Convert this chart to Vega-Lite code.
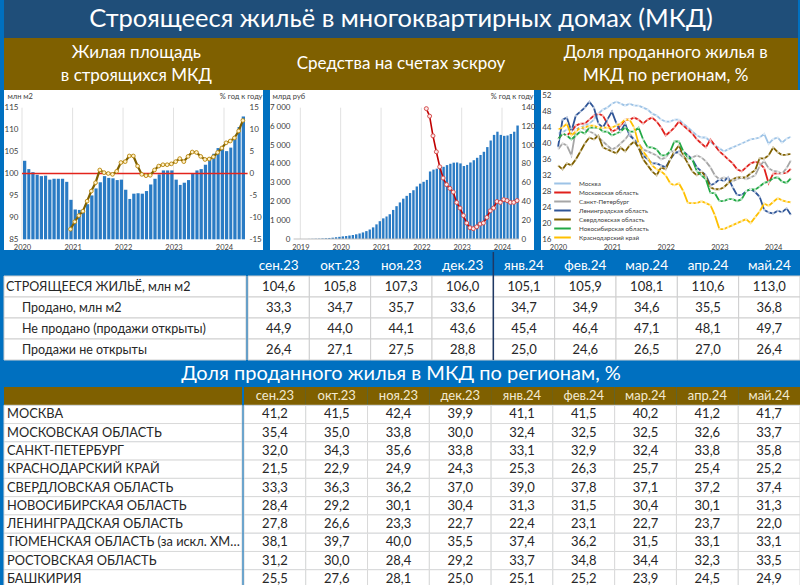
{
"$schema": "https://vega.github.io/schema/vega-lite/v6.json",
"background": "#0070c0",
"padding": {"left": 3, "right": 3, "top": 0, "bottom": 0},
"spacing": 0,
"config": {
  "font": "Lato",
  "view": {"stroke": null},
  "concat": {"spacing": 0},
  "locale": {"number": {"decimal": ",", "thousands": "\u00a0", "grouping": [3], "currency": ["", ""], "minus": "-"}},
  "axis": {"domain": false, "ticks": false, "grid": false, "labelColor": "#404040", "labelFontSize": 8, "titleColor": "#404040", "titleFontWeight": "normal", "titleFontSize": 7.5, "labelFlush": false, "labelOverlap": false, "labelBound": false}
},
"datasets": {
  "c1b": [
    {"d":"2020-01","v":102.9},{"d":"2020-02","v":101.0},{"d":"2020-03","v":100.3},{"d":"2020-04","v":99.7},{"d":"2020-05","v":99.4},{"d":"2020-06","v":99.5},{"d":"2020-07","v":98.6},{"d":"2020-08","v":98.8},{"d":"2020-09","v":98.8},{"d":"2020-10","v":98.8},{"d":"2020-11","v":98.1},{"d":"2020-12","v":94.0},
    {"d":"2021-01","v":91.8},{"d":"2021-02","v":91.7},{"d":"2021-03","v":91.8},{"d":"2021-04","v":93.0},{"d":"2021-05","v":95.0},{"d":"2021-06","v":96.6},{"d":"2021-07","v":98.0},{"d":"2021-08","v":99.4},{"d":"2021-09","v":99.0},{"d":"2021-10","v":98.9},{"d":"2021-11","v":98.5},{"d":"2021-12","v":98.6},
    {"d":"2022-01","v":96.3},{"d":"2022-02","v":94.2},{"d":"2022-03","v":95.4},{"d":"2022-04","v":95.5},{"d":"2022-05","v":95.4},{"d":"2022-06","v":96.0},{"d":"2022-07","v":97.5},{"d":"2022-08","v":98.8},{"d":"2022-09","v":99.8},{"d":"2022-10","v":100.7},{"d":"2022-11","v":100.7},{"d":"2022-12","v":100.7},
    {"d":"2023-01","v":98.6},{"d":"2023-02","v":97.4},{"d":"2023-03","v":97.9},{"d":"2023-04","v":98.5},{"d":"2023-05","v":100.0},{"d":"2023-06","v":100.7},{"d":"2023-07","v":101.0},{"d":"2023-08","v":102.0},{"d":"2023-09","v":103.6},{"d":"2023-10","v":104.5},{"d":"2023-11","v":105.8},{"d":"2023-12","v":106.0},
    {"d":"2024-01","v":105.1},{"d":"2024-02","v":105.9},{"d":"2024-03","v":108.1},{"d":"2024-04","v":110.6},{"d":"2024-05","v":113.0}
  ],
  "c1g": [
    {"d":"2020-12","v":-12.7},
    {"d":"2021-01","v":-11.0},{"d":"2021-02","v":-9.6},{"d":"2021-03","v":-8.6},{"d":"2021-04","v":-6.3},{"d":"2021-05","v":-4.0},{"d":"2021-06","v":-2.1},{"d":"2021-07","v":0.8},{"d":"2021-08","v":0.2},{"d":"2021-09","v":0.0},{"d":"2021-10","v":-0.2},{"d":"2021-11","v":0.5},{"d":"2021-12","v":2.5},
    {"d":"2022-01","v":2.7},{"d":"2022-02","v":4.0},{"d":"2022-03","v":4.0},{"d":"2022-04","v":1.7},{"d":"2022-05","v":-0.2},{"d":"2022-06","v":-0.5},{"d":"2022-07","v":-0.4},{"d":"2022-08","v":0.8},{"d":"2022-09","v":1.7},{"d":"2022-10","v":2.0},{"d":"2022-11","v":2.0},{"d":"2022-12","v":2.2},
    {"d":"2023-01","v":2.7},{"d":"2023-02","v":3.4},{"d":"2023-03","v":2.7},{"d":"2023-04","v":3.9},{"d":"2023-05","v":4.9},{"d":"2023-06","v":4.8},{"d":"2023-07","v":3.9},{"d":"2023-08","v":3.2},{"d":"2023-09","v":3.3},{"d":"2023-10","v":3.8},{"d":"2023-11","v":4.8},{"d":"2023-12","v":5.8},
    {"d":"2024-01","v":7.0},{"d":"2024-02","v":7.4},{"d":"2024-03","v":8.1},{"d":"2024-04","v":9.7},{"d":"2024-05","v":12.1}
  ],
  "c2b": [
    {"d":"2019-03","v":5},{"d":"2019-04","v":10},{"d":"2019-05","v":15},{"d":"2019-06","v":20},{"d":"2019-07","v":30},{"d":"2019-08","v":40},{"d":"2019-09","v":55},{"d":"2019-10","v":70},{"d":"2019-11","v":90},{"d":"2019-12","v":115},
    {"d":"2020-01","v":140},{"d":"2020-02","v":160},{"d":"2020-03","v":185},{"d":"2020-04","v":215},{"d":"2020-05","v":250},{"d":"2020-06","v":295},{"d":"2020-07","v":350},{"d":"2020-08","v":420},{"d":"2020-09","v":500},{"d":"2020-10","v":620},{"d":"2020-11","v":780},{"d":"2020-12","v":950},
    {"d":"2021-01","v":1100},{"d":"2021-02","v":1200},{"d":"2021-03","v":1320},{"d":"2021-04","v":1550},{"d":"2021-05","v":1750},{"d":"2021-06","v":1950},{"d":"2021-07","v":2150},{"d":"2021-08","v":2300},{"d":"2021-09","v":2450},{"d":"2021-10","v":2600},{"d":"2021-11","v":2800},{"d":"2021-12","v":2950},
    {"d":"2022-01","v":3050},{"d":"2022-02","v":3150},{"d":"2022-03","v":3600},{"d":"2022-04","v":3700},{"d":"2022-05","v":3750},{"d":"2022-06","v":3800},{"d":"2022-07","v":3850},{"d":"2022-08","v":3940},{"d":"2022-09","v":4010},{"d":"2022-10","v":4070},{"d":"2022-11","v":4080},{"d":"2022-12","v":4030},
    {"d":"2023-01","v":3890},{"d":"2023-02","v":3950},{"d":"2023-03","v":4080},{"d":"2023-04","v":4200},{"d":"2023-05","v":4330},{"d":"2023-06","v":4480},{"d":"2023-07","v":4650},{"d":"2023-08","v":4900},{"d":"2023-09","v":5250},{"d":"2023-10","v":5550},{"d":"2023-11","v":5720},{"d":"2023-12","v":5550},
    {"d":"2024-01","v":5500},{"d":"2024-02","v":5520},{"d":"2024-03","v":5600},{"d":"2024-04","v":5720},{"d":"2024-05","v":6050}
  ],
  "c2g": [
    {"d":"2022-02","v":139},{"d":"2022-03","v":131},{"d":"2022-04","v":110},{"d":"2022-05","v":93},{"d":"2022-06","v":77},{"d":"2022-07","v":65},{"d":"2022-08","v":58},{"d":"2022-09","v":54},{"d":"2022-10","v":50},{"d":"2022-11","v":39},{"d":"2022-12","v":33},
    {"d":"2023-01","v":25},{"d":"2023-02","v":17},{"d":"2023-03","v":12},{"d":"2023-04","v":11},{"d":"2023-05","v":13},{"d":"2023-06","v":16},{"d":"2023-07","v":17},{"d":"2023-08","v":23},{"d":"2023-09","v":30},{"d":"2023-10","v":33},{"d":"2023-11","v":40},{"d":"2023-12","v":39},
    {"d":"2024-01","v":42},{"d":"2024-02","v":41},{"d":"2024-03","v":39},{"d":"2024-04","v":39},{"d":"2024-05","v":41}
  ],
  "yrs1": [{"d":"2020-01"},{"d":"2021-01"},{"d":"2022-01"},{"d":"2023-01"},{"d":"2024-01"}],
  "yrs2": [{"d":"2019-01"},{"d":"2020-01"},{"d":"2021-01"},{"d":"2022-01"},{"d":"2023-01"},{"d":"2024-01"}],
  "c3n": [
    {"k":"m","n":"Москва"},{"k":"mo","n":"Московская область"},{"k":"sp","n":"Санкт-Петербург"},{"k":"lo","n":"Ленинградская область"},{"k":"so","n":"Свердловская область"},{"k":"no","n":"Новосибирская область"},{"k":"kk","n":"Краснодарский край"}
  ],
  "c3": [
    {"d":"2020-01","m":42.5,"mo":41.0,"sp":38.5,"lo":39.0,"so":34.5,"no":41.0,"kk":43.5},
    {"d":"2020-02","m":42.8,"mo":42.5,"sp":40.0,"lo":46.0,"so":33.5,"no":42.5,"kk":44.0},
    {"d":"2020-03","m":43.5,"mo":42.0,"sp":39.5,"lo":46.5,"so":35.0,"no":42.0,"kk":45.0},
    {"d":"2020-04","m":43.8,"mo":43.0,"sp":37.0,"lo":43.0,"so":34.5,"no":41.0,"kk":42.0},
    {"d":"2020-05","m":43.5,"mo":44.5,"sp":43.5,"lo":47.0,"so":36.0,"no":42.0,"kk":43.0},
    {"d":"2020-06","m":44.0,"mo":45.0,"sp":44.0,"lo":48.0,"so":38.0,"no":43.0,"kk":44.0},
    {"d":"2020-07","m":44.5,"mo":45.0,"sp":43.5,"lo":49.0,"so":40.0,"no":42.5,"kk":44.0},
    {"d":"2020-08","m":45.0,"mo":46.0,"sp":43.0,"lo":50.5,"so":41.5,"no":44.0,"kk":44.5},
    {"d":"2020-09","m":46.0,"mo":47.0,"sp":42.5,"lo":49.0,"so":41.0,"no":44.0,"kk":44.5},
    {"d":"2020-10","m":47.5,"mo":47.5,"sp":41.5,"lo":45.0,"so":42.0,"no":44.0,"kk":44.0},
    {"d":"2020-11","m":48.5,"mo":47.0,"sp":40.5,"lo":44.0,"so":39.0,"no":43.0,"kk":44.0},
    {"d":"2020-12","m":49.0,"mo":45.0,"sp":39.5,"lo":46.0,"so":38.5,"no":43.0,"kk":44.0},
    {"d":"2021-01","m":50.0,"mo":43.0,"sp":38.5,"lo":48.0,"so":38.0,"no":42.0,"kk":44.0},
    {"d":"2021-02","m":50.5,"mo":43.5,"sp":39.0,"lo":45.0,"so":37.5,"no":42.5,"kk":44.5},
    {"d":"2021-03","m":50.0,"mo":44.5,"sp":40.0,"lo":43.0,"so":39.0,"no":43.0,"kk":45.0},
    {"d":"2021-04","m":49.5,"mo":46.0,"sp":41.0,"lo":45.0,"so":38.0,"no":44.0,"kk":46.0},
    {"d":"2021-05","m":50.0,"mo":46.0,"sp":42.5,"lo":42.0,"so":39.5,"no":43.0,"kk":46.0},
    {"d":"2021-06","m":49.5,"mo":46.5,"sp":41.0,"lo":41.0,"so":40.5,"no":43.0,"kk":44.0},
    {"d":"2021-07","m":49.5,"mo":46.0,"sp":40.0,"lo":39.0,"so":39.0,"no":44.0,"kk":40.0},
    {"d":"2021-08","m":49.0,"mo":45.0,"sp":38.5,"lo":37.0,"so":36.0,"no":41.0,"kk":38.0},
    {"d":"2021-09","m":48.5,"mo":46.0,"sp":38.0,"lo":36.0,"so":34.5,"no":39.0,"kk":36.5},
    {"d":"2021-10","m":47.5,"mo":46.5,"sp":37.5,"lo":35.0,"so":33.0,"no":39.0,"kk":34.5},
    {"d":"2021-11","m":47.0,"mo":45.5,"sp":37.0,"lo":35.0,"so":32.0,"no":38.5,"kk":33.5},
    {"d":"2021-12","m":46.0,"mo":44.0,"sp":36.0,"lo":34.5,"so":34.0,"no":37.0,"kk":33.0},
    {"d":"2022-01","m":45.5,"mo":42.0,"sp":36.5,"lo":34.0,"so":33.5,"no":37.0,"kk":32.0},
    {"d":"2022-02","m":45.5,"mo":43.0,"sp":38.0,"lo":36.0,"so":36.0,"no":38.0,"kk":30.0},
    {"d":"2022-03","m":46.0,"mo":44.0,"sp":38.0,"lo":37.5,"so":38.0,"no":40.5,"kk":29.5},
    {"d":"2022-04","m":46.0,"mo":45.5,"sp":37.5,"lo":38.0,"so":39.5,"no":40.5,"kk":30.0},
    {"d":"2022-05","m":45.0,"mo":44.5,"sp":36.5,"lo":38.0,"so":37.0,"no":38.0,"kk":28.0},
    {"d":"2022-06","m":44.0,"mo":43.5,"sp":36.0,"lo":37.0,"so":35.0,"no":36.5,"kk":25.0},
    {"d":"2022-07","m":43.0,"mo":42.5,"sp":36.5,"lo":36.0,"so":33.0,"no":36.0,"kk":25.0},
    {"d":"2022-08","m":42.0,"mo":41.0,"sp":37.0,"lo":34.0,"so":32.0,"no":33.0,"kk":25.0},
    {"d":"2022-09","m":41.5,"mo":40.0,"sp":36.5,"lo":33.0,"so":33.0,"no":32.0,"kk":25.5},
    {"d":"2022-10","m":41.5,"mo":39.0,"sp":35.5,"lo":32.0,"so":31.5,"no":31.0,"kk":25.0},
    {"d":"2022-11","m":40.5,"mo":41.0,"sp":34.0,"lo":29.5,"so":29.0,"no":27.5,"kk":24.5},
    {"d":"2022-12","m":39.5,"mo":39.5,"sp":32.0,"lo":30.0,"so":28.5,"no":27.5,"kk":22.0},
    {"d":"2023-01","m":38.8,"mo":38.0,"sp":31.0,"lo":31.0,"so":28.5,"no":25.5,"kk":18.5},
    {"d":"2023-02","m":38.0,"mo":37.0,"sp":31.5,"lo":30.5,"so":29.0,"no":25.5,"kk":18.5},
    {"d":"2023-03","m":38.5,"mo":36.0,"sp":31.0,"lo":31.5,"so":30.0,"no":26.0,"kk":19.0},
    {"d":"2023-04","m":39.0,"mo":35.0,"sp":30.5,"lo":29.0,"so":31.0,"no":26.0,"kk":19.5},
    {"d":"2023-05","m":39.5,"mo":33.5,"sp":31.0,"lo":27.0,"so":31.5,"no":25.5,"kk":20.0},
    {"d":"2023-06","m":40.0,"mo":33.0,"sp":31.5,"lo":27.0,"so":31.5,"no":26.0,"kk":20.5},
    {"d":"2023-07","m":40.5,"mo":34.0,"sp":31.0,"lo":28.0,"so":31.5,"no":28.0,"kk":21.0},
    {"d":"2023-08","m":41.0,"mo":35.0,"sp":31.5,"lo":28.5,"so":32.5,"no":28.5,"kk":20.0},
    {"d":"2023-09","m":41.2,"mo":35.4,"sp":32.0,"lo":27.8,"so":33.3,"no":28.4,"kk":21.5},
    {"d":"2023-10","m":41.5,"mo":35.0,"sp":34.3,"lo":26.6,"so":36.3,"no":29.2,"kk":22.9},
    {"d":"2023-11","m":42.4,"mo":33.8,"sp":35.6,"lo":23.3,"so":36.2,"no":30.1,"kk":24.9},
    {"d":"2023-12","m":39.9,"mo":30.0,"sp":33.8,"lo":22.7,"so":37.0,"no":30.4,"kk":24.3},
    {"d":"2024-01","m":41.1,"mo":32.4,"sp":33.1,"lo":22.4,"so":39.0,"no":31.3,"kk":25.3},
    {"d":"2024-02","m":41.5,"mo":32.5,"sp":32.9,"lo":23.1,"so":37.8,"no":31.5,"kk":26.3},
    {"d":"2024-03","m":40.2,"mo":32.5,"sp":32.4,"lo":22.7,"so":37.1,"no":30.4,"kk":25.7},
    {"d":"2024-04","m":41.2,"mo":32.6,"sp":33.8,"lo":23.7,"so":37.2,"no":30.1,"kk":25.4},
    {"d":"2024-05","m":41.7,"mo":33.7,"sp":35.8,"lo":22.0,"so":37.4,"no":31.3,"kk":25.2}
  ],
  "months": [
    {"k":"m1","col":"сен.23","r":"h"},{"k":"m2","col":"окт.23","r":"h"},{"k":"m3","col":"ноя.23","r":"h"},{"k":"m4","col":"дек.23","r":"h"},{"k":"m5","col":"янв.24","r":"h"},{"k":"m6","col":"фев.24","r":"h"},{"k":"m7","col":"мар.24","r":"h"},{"k":"m8","col":"апр.24","r":"h"},{"k":"m9","col":"май.24","r":"h"}
  ],
  "hdr": [{"r":"h"}],
  "t1lab": [
    {"r":"s","t":"СТРОЯЩЕЕСЯ ЖИЛЬЁ, млн м2"},{"r":"p","t":"Продано, млн м2"},{"r":"n","t":"Не продано (продажи открыты)"},{"r":"z","t":"Продажи не открыты"}
  ],
  "t1": [
    {"r":"s","m1":104.6,"m2":105.8,"m3":107.3,"m4":106.0,"m5":105.1,"m6":105.9,"m7":108.1,"m8":110.6,"m9":113.0},
    {"r":"p","m1":33.3,"m2":34.7,"m3":35.7,"m4":33.6,"m5":34.7,"m6":34.9,"m7":34.6,"m8":35.5,"m9":36.8},
    {"r":"n","m1":44.9,"m2":44.0,"m3":44.1,"m4":43.6,"m5":45.4,"m6":46.4,"m7":47.1,"m8":48.1,"m9":49.7},
    {"r":"z","m1":26.4,"m2":27.1,"m3":27.5,"m4":28.8,"m5":25.0,"m6":24.6,"m7":26.5,"m8":27.0,"m9":26.4}
  ],
  "t2lab": [
    {"r":"r1","t":"МОСКВА"},{"r":"r2","t":"МОСКОВСКАЯ ОБЛАСТЬ"},{"r":"r3","t":"САНКТ-ПЕТЕРБУРГ"},{"r":"r4","t":"КРАСНОДАРСКИЙ КРАЙ"},{"r":"r5","t":"СВЕРДЛОВСКАЯ ОБЛАСТЬ"},{"r":"r6","t":"НОВОСИБИРСКАЯ ОБЛАСТЬ"},{"r":"r7","t":"ЛЕНИНГРАДСКАЯ ОБЛАСТЬ"},{"r":"r8","t":"ТЮМЕНСКАЯ ОБЛАСТЬ (за искл. ХМАО и ЯНАО)"},{"r":"r9","t":"РОСТОВСКАЯ ОБЛАСТЬ"},{"r":"r10","t":"БАШКИРИЯ"}
  ],
  "t2": [
    {"r":"r1","m1":41.2,"m2":41.5,"m3":42.4,"m4":39.9,"m5":41.1,"m6":41.5,"m7":40.2,"m8":41.2,"m9":41.7},
    {"r":"r2","m1":35.4,"m2":35.0,"m3":33.8,"m4":30.0,"m5":32.4,"m6":32.5,"m7":32.5,"m8":32.6,"m9":33.7},
    {"r":"r3","m1":32.0,"m2":34.3,"m3":35.6,"m4":33.8,"m5":33.1,"m6":32.9,"m7":32.4,"m8":33.8,"m9":35.8},
    {"r":"r4","m1":21.5,"m2":22.9,"m3":24.9,"m4":24.3,"m5":25.3,"m6":26.3,"m7":25.7,"m8":25.4,"m9":25.2},
    {"r":"r5","m1":33.3,"m2":36.3,"m3":36.2,"m4":37.0,"m5":39.0,"m6":37.8,"m7":37.1,"m8":37.2,"m9":37.4},
    {"r":"r6","m1":28.4,"m2":29.2,"m3":30.1,"m4":30.4,"m5":31.3,"m6":31.5,"m7":30.4,"m8":30.1,"m9":31.3},
    {"r":"r7","m1":27.8,"m2":26.6,"m3":23.3,"m4":22.7,"m5":22.4,"m6":23.1,"m7":22.7,"m8":23.7,"m9":22.0},
    {"r":"r8","m1":38.1,"m2":39.7,"m3":40.0,"m4":35.5,"m5":37.4,"m6":36.2,"m7":31.5,"m8":33.1,"m9":33.1},
    {"r":"r9","m1":31.2,"m2":30.0,"m3":28.4,"m4":29.2,"m5":33.7,"m6":34.8,"m7":34.4,"m8":32.3,"m9":33.5},
    {"r":"r10","m1":25.5,"m2":27.6,"m3":28.1,"m4":25.0,"m5":25.1,"m6":25.2,"m7":23.9,"m8":24.5,"m9":24.9}
  ]
},
"vconcat": [
  {
    "width": 794, "height": 38,
    "view": {"fill": "#1f4e79"},
    "data": {"values": [{"t": "Строящееся жильё в многоквартирных домах (МКД)"}]},
    "mark": {"type": "text", "color": "white", "fontSize": 25.5, "baseline": "middle"},
    "encoding": {"text": {"field": "t"}}
  },
  {
    "width": 794, "height": 52,
    "view": {"fill": "#7f6000"},
    "data": {"values": [
      {"c": "1", "t": ["Жилая площадь", "в строящихся МКД"]},
      {"c": "2", "t": ["Средства на счетах эскроу"]},
      {"c": "3", "t": ["Доля проданного жилья в", "МКД по регионам, %"]}
    ]},
    "encoding": {
      "x": {"field": "c", "type": "nominal", "axis": null, "scale": {"domain": ["1", "2", "3"], "paddingInner": 0, "paddingOuter": 0}},
      "text": {"field": "t"}
    },
    "layer": [
      {"transform": [{"filter": "datum.c != '2'"}],
       "mark": {"type": "text", "color": "#ffffff", "fontSize": 17, "lineHeight": 23, "baseline": "middle", "dy": -11}},
      {"transform": [{"filter": "datum.c == '2'"}],
       "mark": {"type": "text", "color": "#ffffff", "fontSize": 17, "baseline": "middle"}}
    ]
  },
  {
    "hconcat": [
      {
        "width": 259, "height": 160,
        "view": {"fill": "white"},
        "resolve": {"scale": {"y": "independent"}},
        "layer": [
          {
            "layer": [
              {
                "data": {"name": "yrs1"},
                "mark": {"type": "rule", "color": "#d9d9d9", "strokeWidth": 0.8},
                "encoding": {
                  "x": {"field": "d", "type": "temporal", "timeUnit": "utcyearmonth", "bandPosition": 0},
                  "y": {"datum": 85},
                  "y2": {"datum": 115}
                }
              },
              {
                "data": {"name": "c1b"},
                "mark": {"type": "bar", "color": "#2a7bc4", "timeUnitBandSize": 0.76},
                "encoding": {
                  "x": {"field": "d", "type": "temporal", "timeUnit": "utcyearmonth",
                    "scale": {"domain": [{"year": 2020, "month": 1, "utc": true}, {"year": 2024, "month": 6, "utc": true}], "range": [18, 241], "nice": false, "padding": 0},
                    "axis": {"orient": "bottom", "offset": -8, "labelPadding": 1, "format": "%Y", "labelFontSize": 7.5, "title": null, "labelOverlap": false, "tickCount": 30,
                      "values": [{"year": 2020, "month": 1, "utc": true}, {"year": 2021, "month": 1, "utc": true}, {"year": 2022, "month": 1, "utc": true}, {"year": 2023, "month": 1, "utc": true}, {"year": 2024, "month": 1, "utc": true}]}},
                  "y": {"field": "v", "type": "quantitative",
                    "scale": {"domain": [85, 115], "range": [149.3, 17.7], "zero": false, "nice": false},
                    "axis": {"orient": "left", "offset": -18, "labelPadding": 4, "values": [85, 90, 95, 100, 105, 110, 115], "labelOverlap": false, "tickCount": 30,
                      "title": "млн м2", "titleAngle": 0, "titleX": -15, "titleY": 6, "titleAlign": "left", "titleBaseline": "middle"}},
                  "y2": {"datum": 85}
                }
              },
              {
                "data": {"values": [{}]},
                "mark": {"type": "rule", "color": "#e3241c", "strokeWidth": 1.6},
                "encoding": {
                  "x": {"datum": {"year": 2020, "month": 1, "utc": true}},
                  "x2": {"datum": {"year": 2024, "month": 6, "date": 20, "utc": true}},
                  "y": {"datum": 100}
                }
              }
            ]
          },
          {
            "data": {"name": "c1g"},
            "layer": [
              {
                "mark": {"type": "line", "color": "#7f6000", "strokeWidth": 2.2},
                "encoding": {
                  "x": {"field": "d", "type": "temporal", "timeUnit": "utcyearmonth", "bandPosition": 0.5},
                  "y": {"field": "v", "type": "quantitative",
                    "scale": {"domain": [-15, 15], "range": [149.3, 17.7], "nice": false, "zero": false},
                    "axis": {"orient": "right", "offset": -16, "labelPadding": 2, "values": [-15, -10, -5, 0, 5, 10, 15], "labelOverlap": false, "tickCount": 30,
                      "title": "% год к году", "titleAngle": 0, "titleX": 15, "titleY": 6, "titleAlign": "right", "titleBaseline": "middle"}}
                }
              },
              {
                "mark": {"type": "point", "filled": true, "fill": "#fff2cc", "stroke": "#b8860b", "strokeWidth": 0.9, "size": 14, "opacity": 1},
                "encoding": {
                  "x": {"field": "d", "type": "temporal", "timeUnit": "utcyearmonth", "bandPosition": 0.5},
                  "y": {"field": "v", "type": "quantitative"}
                }
              }
            ]
          }
        ]
      },
      {
        "width": 264, "height": 160,
        "view": {"fill": "white"},
        "resolve": {"scale": {"y": "independent"}},
        "layer": [
          {
            "layer": [
              {
                "data": {"name": "yrs2"},
                "mark": {"type": "rule", "color": "#d9d9d9", "strokeWidth": 0.8},
                "encoding": {
                  "x": {"field": "d", "type": "temporal", "timeUnit": "utcyearmonth", "bandPosition": 0},
                  "y": {"datum": 0},
                  "y2": {"datum": 7000}
                }
              },
              {
                "data": {"name": "c2b"},
                "mark": {"type": "bar", "color": "#2a7bc4", "timeUnitBandSize": 0.8},
                "encoding": {
                  "x": {"field": "d", "type": "temporal", "timeUnit": "utcyearmonth",
                    "scale": {"domain": [{"year": 2018, "month": 11, "utc": true}, {"year": 2024, "month": 6, "utc": true}], "range": [23.6, 248.8], "nice": false, "padding": 0},
                    "axis": {"orient": "bottom", "offset": -8, "labelPadding": 1, "format": "%Y", "labelFontSize": 7.5, "title": null, "labelOverlap": false, "tickCount": 30,
                      "values": [{"year": 2019, "month": 1, "utc": true}, {"year": 2020, "month": 1, "utc": true}, {"year": 2021, "month": 1, "utc": true}, {"year": 2022, "month": 1, "utc": true}, {"year": 2023, "month": 1, "utc": true}, {"year": 2024, "month": 1, "utc": true}]}},
                  "y": {"field": "v", "type": "quantitative",
                    "scale": {"domain": [0, 7000], "range": [149, 17.7], "nice": false},
                    "axis": {"orient": "left", "offset": -24, "labelPadding": 4, "values": [0, 1000, 2000, 3000, 4000, 5000, 6000, 7000], "format": ",.0f", "labelOverlap": false, "tickCount": 30,
                      "title": "млрд  руб", "titleAngle": 0, "titleX": -22, "titleY": 6, "titleAlign": "left", "titleBaseline": "middle"}},
                  "y2": {"datum": 0}
                }
              },
              {
                "data": {"values": [{}]},
                "mark": {"type": "rule", "color": "#bfbfbf", "strokeWidth": 1},
                "encoding": {
                  "x": {"datum": {"year": 2018, "month": 11, "utc": true}},
                  "x2": {"datum": {"year": 2024, "month": 6, "utc": true}},
                  "y": {"datum": 0}
                }
              }
            ]
          },
          {
            "data": {"name": "c2g"},
            "layer": [
              {
                "mark": {"type": "line", "color": "#c00000", "strokeWidth": 1.6},
                "encoding": {
                  "x": {"field": "d", "type": "temporal", "timeUnit": "utcyearmonth", "bandPosition": 0.5},
                  "y": {"field": "v", "type": "quantitative",
                    "scale": {"domain": [0, 140], "range": [149, 17.7], "nice": false},
                    "axis": {"orient": "right", "offset": -15, "labelPadding": 2, "values": [0, 20, 40, 60, 80, 100, 120, 140], "labelOverlap": false, "tickCount": 30,
                      "title": "% год к году", "titleAngle": 0, "titleX": 14, "titleY": 6, "titleAlign": "right", "titleBaseline": "middle"}}
                }
              },
              {
                "mark": {"type": "point", "filled": true, "fill": "#fde8e8", "stroke": "#d04040", "strokeWidth": 0.9, "size": 16, "opacity": 1},
                "encoding": {
                  "x": {"field": "d", "type": "temporal", "timeUnit": "utcyearmonth", "bandPosition": 0.5},
                  "y": {"field": "v", "type": "quantitative"}
                }
              }
            ]
          }
        ]
      },
      {
        "width": 259, "height": 160,
        "view": {"fill": "white"},
        "data": {"name": "c3"},
        "transform": [
          {"fold": ["m", "mo", "sp", "lo", "so", "no", "kk"], "as": ["k", "v"]},
          {"lookup": "k", "from": {"data": {"name": "c3n"}, "key": "k", "fields": ["n"]}}
        ],
        "encoding": {
          "x": {"field": "d", "type": "temporal", "timeUnit": "utcyearmonth",
            "scale": {"domain": [{"year": 2020, "month": 1, "utc": true}, {"year": 2024, "month": 5, "utc": true}], "range": [17, 250], "nice": false},
            "axis": {"orient": "bottom", "offset": -8, "labelPadding": 1, "format": "%Y", "labelFontSize": 7.5, "title": null, "tickCount": 30,
              "values": [{"year": 2020, "month": 1, "utc": true}, {"year": 2021, "month": 1, "utc": true}, {"year": 2022, "month": 1, "utc": true}, {"year": 2023, "month": 1, "utc": true}, {"year": 2024, "month": 1, "utc": true}]}},
          "y": {"field": "v", "type": "quantitative",
            "scale": {"domain": [16, 52], "range": [149, 5.7], "nice": false, "zero": false},
            "axis": {"orient": "left", "offset": -14, "labelPadding": 4, "values": [16, 20, 24, 28, 32, 36, 40, 44, 48, 52], "title": null, "tickCount": 30}},
          "color": {"field": "n", "type": "nominal",
            "scale": {"domain": ["Москва", "Московская область", "Санкт-Петербург", "Ленинградская область", "Свердловская область", "Новосибирская область", "Краснодарский край"],
                      "range": ["#9dc3e6", "#e0201c", "#a6a6a6", "#2f5597", "#7f6000", "#22a845", "#ffc000"]},
            "legend": {"orient": "none", "legendX": 17, "legendY": 89, "title": null, "symbolType": "M-2.4,0H2.4", "symbolStrokeWidth": 2, "symbolSize": 48,
              "labelFontSize": 6.3, "labelColor": "#404040", "rowPadding": -0.6, "labelOffset": 12, "padding": 0}}
        },
        "layer": [
          {"mark": {"type": "line", "strokeWidth": 1.8}},
          {"mark": {"type": "point", "filled": true, "size": 6, "opacity": 1, "strokeWidth": 0},
           "encoding": {"fill": {"value": "white"}, "fillOpacity": {"value": 0.65}}}
        ]
      }
    ],
    "spacing": 6,
    "resolve": {"legend": {"color": "independent"}}
  },
  {
    "hconcat": [
      {
        "width": 242, "height": 108,
        "data": {"name": "t1lab"},
        "layer": [
          {
            "mark": {"type": "rect", "fill": "white", "stroke": "#cfcfcf", "strokeWidth": 1},
            "encoding": {
              "x": {"datum": 0, "type": "quantitative", "scale": {"domain": [0, 1], "nice": false}, "axis": null},
              "x2": {"datum": 1},
              "y": {"field": "r", "type": "nominal", "scale": {"domain": ["h", "s", "p", "n", "z"], "range": [3, 108], "paddingInner": 0, "paddingOuter": 0}, "axis": null}
            }
          },
          {
            "transform": [{"filter": "datum.r == 's'"}],
            "mark": {"type": "text", "align": "left", "dx": 2, "fontSize": 12.5, "color": "#262626"},
            "encoding": {
              "x": {"datum": 0, "type": "quantitative", "axis": null},
              "y": {"field": "r", "type": "nominal", "axis": null},
              "text": {"field": "t"}
            }
          },
          {
            "transform": [{"filter": "datum.r != 's'"}],
            "mark": {"type": "text", "align": "left", "dx": 18, "fontSize": 12.5, "color": "#262626"},
            "encoding": {
              "x": {"datum": 0, "type": "quantitative", "axis": null},
              "y": {"field": "r", "type": "nominal", "axis": null},
              "text": {"field": "t"}
            }
          }
        ]
      },
      {
        "width": 552, "height": 108,
        "layer": [
          {
            "data": {"name": "t1"},
            "transform": [
              {"fold": ["m1", "m2", "m3", "m4", "m5", "m6", "m7", "m8", "m9"], "as": ["k", "v"]},
              {"lookup": "k", "from": {"data": {"name": "months"}, "key": "k", "fields": ["col"]}}
            ],
            "layer": [
              {
                "mark": {"type": "rect", "fill": "white", "stroke": "#cfcfcf", "strokeWidth": 1},
                "encoding": {
                  "x": {"field": "col", "type": "nominal", "scale": {"domain": ["сен.23", "окт.23", "ноя.23", "дек.23", "янв.24", "фев.24", "мар.24", "апр.24", "май.24"], "paddingInner": 0, "paddingOuter": 0}, "axis": null},
                  "y": {"field": "r", "type": "nominal", "scale": {"domain": ["h", "s", "p", "n", "z"], "range": [3, 108], "paddingInner": 0, "paddingOuter": 0}, "axis": null}
                }
              },
              {
                "mark": {"type": "text", "fontSize": 13, "color": "#262626"},
                "encoding": {
                  "x": {"field": "col", "type": "nominal", "axis": null},
                  "y": {"field": "r", "type": "nominal", "axis": null},
                  "text": {"field": "v", "type": "quantitative", "format": ".1f"}
                }
              }
            ]
          },
          {
            "data": {"name": "months"},
            "layer": [
              {
                "mark": {"type": "text", "fontSize": 13.5, "color": "white"},
                "encoding": {
                  "x": {"field": "col", "type": "nominal", "axis": null},
                  "y": {"field": "r", "type": "nominal", "axis": null},
                  "text": {"field": "col"}
                }
              },
              {
                "transform": [{"filter": "datum.k == 'm5'"}],
                "mark": {"type": "rule", "color": "#1f3864", "strokeWidth": 1.5},
                "encoding": {
                  "x": {"field": "col", "type": "nominal", "bandPosition": 0, "axis": null}
                }
              }
            ]
          }
        ]
      }
    ]
  },
  {
    "width": 794, "height": 26,
    "data": {"values": [{"t": "Доля проданного жилья в МКД по регионам, %"}]},
    "mark": {"type": "text", "color": "white", "fontSize": 20, "baseline": "middle"},
    "encoding": {"text": {"field": "t"}}
  },
  {
    "hconcat": [
      {
        "width": 238, "height": 201,
        "layer": [
          {
            "data": {"name": "hdr"},
            "mark": {"type": "rect", "fill": "#7f6000"},
            "encoding": {
              "x": {"datum": 0, "type": "quantitative", "scale": {"domain": [0, 1], "nice": false}, "axis": null},
              "x2": {"datum": 1},
              "y": {"field": "r", "type": "nominal", "scale": {"domain": ["h", "r1", "r2", "r3", "r4", "r5", "r6", "r7", "r8", "r9", "r10"], "paddingInner": 0, "paddingOuter": 0}, "axis": null}
            }
          },
          {
            "data": {"name": "t2lab"},
            "layer": [
              {
                "mark": {"type": "rect", "fill": "white", "stroke": "#d9d9d9", "strokeWidth": 1},
                "encoding": {
                  "x": {"datum": 0, "type": "quantitative", "axis": null},
                  "x2": {"datum": 1},
                  "y": {"field": "r", "type": "nominal", "axis": null}
                }
              },
              {
                "mark": {"type": "text", "align": "left", "dx": 3, "fontSize": 12.8, "color": "#262626", "limit": 233, "ellipsis": ""},
                "encoding": {
                  "x": {"datum": 0, "type": "quantitative", "axis": null},
                  "y": {"field": "r", "type": "nominal", "axis": null},
                  "text": {"field": "t"}
                }
              }
            ]
          }
        ]
      },
      {
        "width": 556, "height": 201,
        "layer": [
          {
            "data": {"name": "months"},
            "layer": [
              {
                "mark": {"type": "rect", "fill": "#7f6000"},
                "encoding": {
                  "x": {"field": "col", "type": "nominal", "scale": {"domain": ["сен.23", "окт.23", "ноя.23", "дек.23", "янв.24", "фев.24", "мар.24", "апр.24", "май.24"], "paddingInner": 0, "paddingOuter": 0}, "axis": null},
                  "y": {"field": "r", "type": "nominal", "scale": {"domain": ["h", "r1", "r2", "r3", "r4", "r5", "r6", "r7", "r8", "r9", "r10"], "paddingInner": 0, "paddingOuter": 0}, "axis": null}
                }
              },
              {
                "mark": {"type": "text", "fontSize": 13, "color": "#f3ead2"},
                "encoding": {
                  "x": {"field": "col", "type": "nominal", "axis": null},
                  "y": {"field": "r", "type": "nominal", "axis": null},
                  "text": {"field": "col"}
                }
              }
            ]
          },
          {
            "data": {"name": "t2"},
            "transform": [
              {"fold": ["m1", "m2", "m3", "m4", "m5", "m6", "m7", "m8", "m9"], "as": ["k", "v"]},
              {"lookup": "k", "from": {"data": {"name": "months"}, "key": "k", "fields": ["col"]}}
            ],
            "layer": [
              {
                "mark": {"type": "rect", "fill": "white", "stroke": "#d9d9d9", "strokeWidth": 1},
                "encoding": {
                  "x": {"field": "col", "type": "nominal", "axis": null},
                  "y": {"field": "r", "type": "nominal", "axis": null}
                }
              },
              {
                "mark": {"type": "text", "fontSize": 13, "color": "#262626"},
                "encoding": {
                  "x": {"field": "col", "type": "nominal", "axis": null},
                  "y": {"field": "r", "type": "nominal", "axis": null},
                  "text": {"field": "v", "type": "quantitative", "format": ".1f"}
                }
              }
            ]
          }
        ]
      }
    ]
  }
]
}
